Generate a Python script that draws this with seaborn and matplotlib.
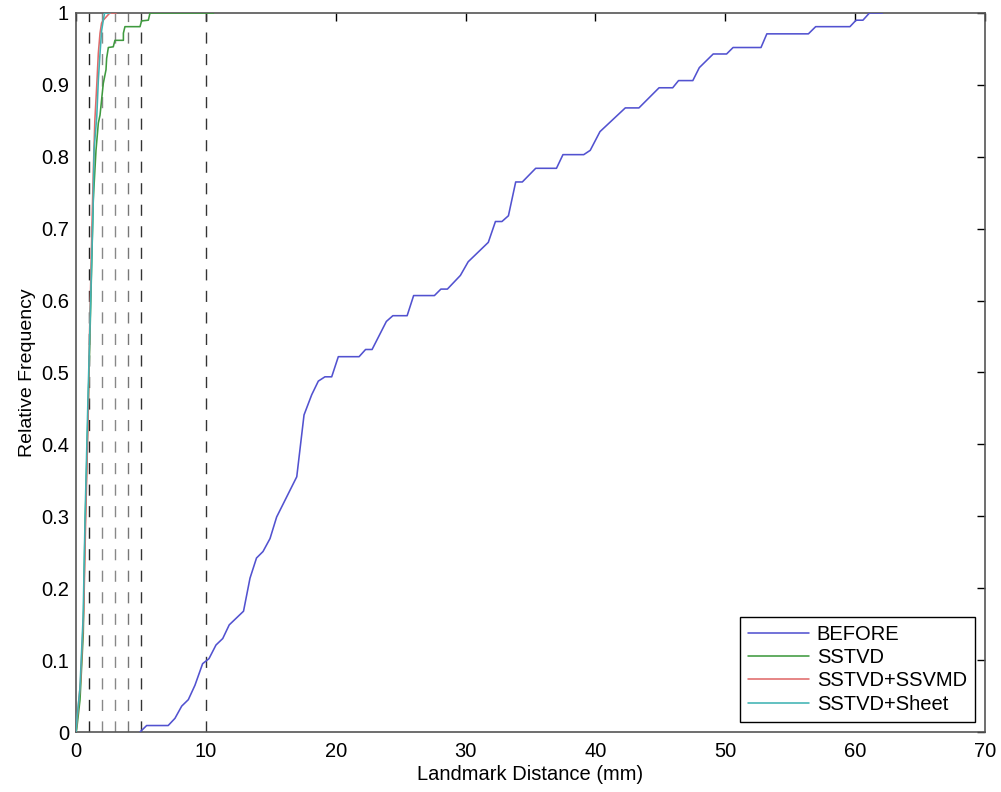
import numpy as np
import pandas as pd
import matplotlib
matplotlib.use("Agg")
import matplotlib.pyplot as plt
import seaborn as sns

# ---- data ----
before_x = [4.93, 5.44, 7.1, 7.62, 8.14, 8.65, 9.16, 9.75, 10.24, 10.78, 11.3, 11.8, 12.9, 13.4,
            13.9, 14.4, 14.94, 15.45, 17.0, 17.56, 18.15, 18.66, 19.17, 19.69, 20.2, 21.8, 22.3,
            22.8, 23.9, 24.4, 25.5, 26.0, 27.6, 28.1, 28.6, 29.6, 30.2, 31.75, 32.3, 32.8, 33.3,
            33.86, 34.37, 35.4, 37.0, 37.5, 39.1, 39.6, 40.35, 42.3, 43.35, 44.9, 45.95, 46.4,
            47.5, 48.0, 49.07, 50.1, 50.6, 52.75, 53.2, 56.4, 56.96, 59.6, 60.07, 60.6, 61.1, 62.1]
before_y = [0, 0.009, 0.009, 0.019, 0.036, 0.045, 0.065, 0.095, 0.102, 0.121, 0.130, 0.149, 0.168,
            0.214, 0.242, 0.251, 0.269, 0.299, 0.355, 0.441, 0.469, 0.488, 0.494, 0.494, 0.522,
            0.522, 0.532, 0.532, 0.571, 0.579, 0.579, 0.607, 0.607, 0.616, 0.616, 0.635, 0.654,
            0.681, 0.710, 0.710, 0.718, 0.765, 0.765, 0.784, 0.784, 0.803, 0.803, 0.809, 0.835,
            0.868, 0.868, 0.896, 0.896, 0.906, 0.906, 0.924, 0.943, 0.943, 0.952, 0.952, 0.971,
            0.971, 0.981, 0.981, 0.990, 0.990, 1.0, 1.0]

sstvd_x = [0.0, 0.05, 0.31, 0.56, 0.69, 0.95, 1.08, 1.33, 1.39, 1.54, 1.72, 1.85, 1.97, 2.10,
           2.31, 2.36, 2.49, 2.87, 3.0, 3.65, 3.65, 3.77, 4.93, 5.05, 5.57, 5.7, 10.6]
sstvd_y = [0, 0.003, 0.045, 0.137, 0.277, 0.46, 0.555, 0.74, 0.76, 0.809, 0.847, 0.858, 0.879,
           0.902, 0.921, 0.937, 0.952, 0.953, 0.962, 0.962, 0.972, 0.981, 0.981, 0.989, 0.99,
           1.0, 1.0]

ssvmd_x = [0.0, 0.1, 0.35, 0.6, 0.75, 0.95, 1.05, 1.25, 1.35, 1.45, 1.6, 1.72, 1.85, 1.97, 2.1,
           2.6, 3.1]
ssvmd_y = [0, 0.02, 0.07, 0.17, 0.30, 0.45, 0.56, 0.72, 0.79, 0.85, 0.90, 0.944, 0.972, 0.986,
           0.99, 1.0, 1.0]

sheet_x = [0.0, 0.08, 0.3, 0.55, 0.7, 0.93, 1.1, 1.33, 1.39, 1.6, 1.72, 1.85, 1.97, 2.1, 2.2,
           2.62]
sheet_y = [0, 0.02, 0.06, 0.16, 0.30, 0.47, 0.58, 0.74, 0.81, 0.856, 0.907, 0.944, 0.975, 0.99,
           1.0, 1.0]

series_names = ["BEFORE", "SSTVD", "SSTVD+SSVMD", "SSTVD+Sheet"]
series_colors = ["#5252d0", "#3f9a3f", "#e06a6a", "#3fb3b3"]
threshold_x = [1, 2, 3, 4, 5, 10]
threshold_colors = ["#222222", "#888888", "#888888", "#777777", "#333333", "#333333"]
x_ticks = [0, 10, 20, 30, 40, 50, 60, 70]
y_ticks = [0, 0.1, 0.2, 0.3, 0.4, 0.5, 0.6, 0.7, 0.8, 0.9, 1.0]
y_ticklabels = ["0", "0.1", "0.2", "0.3", "0.4", "0.5", "0.6", "0.7", "0.8", "0.9", "1"]

sns.set_style("white")
plt.rcParams["font.family"] = ["Liberation Sans", "DejaVu Sans"]
plt.rcParams["text.color"] = "black"
plt.rcParams["axes.labelcolor"] = "black"

fig = plt.figure(figsize=(10.01, 7.92), dpi=100)
ax = fig.add_axes([76 / 1001, 1 - 732 / 792, (985 - 76) / 1001, (732 - 13) / 792])

for xv, c in zip(threshold_x, threshold_colors):
    ax.plot([xv, xv], [0, 1], color=c, lw=1.0, dashes=(8, 7.5), zorder=1)

all_x = [before_x, sstvd_x, ssvmd_x, sheet_x]
all_y = [before_y, sstvd_y, ssvmd_y, sheet_y]
for name, xs, ys, col in zip(series_names, all_x, all_y, series_colors):
    df = pd.DataFrame({"x": xs, "y": ys})
    sns.lineplot(data=df, x="x", y="y", ax=ax, color=col, lw=1.15, label=name,
                 estimator=None, sort=False, zorder=3)

ax.set_xlim(0, 70)
ax.set_ylim(0, 1)
ax.set_xticks(x_ticks)
ax.set_yticks(y_ticks)
ax.set_yticklabels(y_ticklabels)
ax.tick_params(direction="in", length=6, width=1, color="black", top=True, right=True,
               labelsize=14.5, labelcolor="black")
ax.tick_params(axis="x", pad=7)
ax.tick_params(axis="y", pad=5)
for sp in ax.spines.values():
    sp.set_color("#555555")
    sp.set_linewidth(1.2)
    sp.set_visible(True)
ax.set_xlabel("Landmark Distance (mm)", fontsize=14.5, labelpad=3)
ax.set_ylabel("Relative Frequency", fontsize=14, labelpad=4)

leg = ax.legend(loc="lower right", fontsize=14.5, frameon=True, fancybox=False, shadow=False,
                framealpha=1, edgecolor="black", handlelength=3.0, handletextpad=0.4,
                labelspacing=0.22, borderpad=0.4, borderaxespad=0.5)
leg.get_frame().set_linewidth(1.0)
for t in leg.get_texts():
    t.set_color("black")

fig.savefig("out.png", dpi=100, facecolor="white")
